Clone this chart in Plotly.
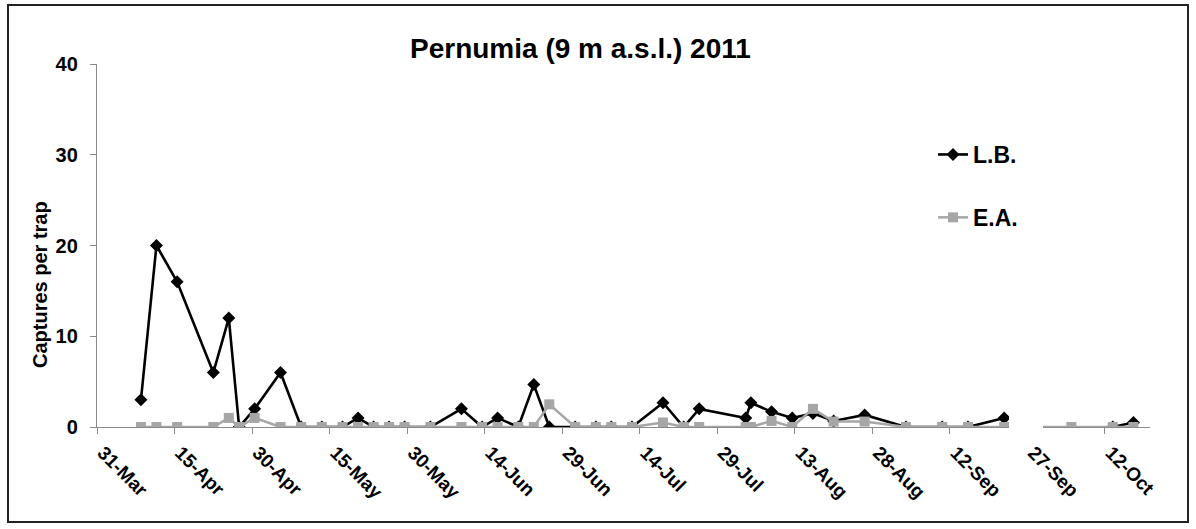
import pandas as pd
import plotly.graph_objects as go

# Trap inspection dates (2011) and mean captures per trap
sample_dates = [
    "2011-04-08", "2011-04-11", "2011-04-15", "2011-04-22", "2011-04-25", "2011-04-27",
    "2011-04-30", "2011-05-05", "2011-05-09", "2011-05-13", "2011-05-17", "2011-05-20",
    "2011-05-23", "2011-05-26", "2011-05-29", "2011-06-03", "2011-06-09", "2011-06-13",
    "2011-06-16", "2011-06-20", "2011-06-23", "2011-06-26", "2011-07-01", "2011-07-05",
    "2011-07-08", "2011-07-12", "2011-07-18", "2011-07-22", "2011-07-25", "2011-08-03",
    "2011-08-04", "2011-08-08", "2011-08-12", "2011-08-16", "2011-08-20", "2011-08-26",
    "2011-09-03", "2011-09-10", "2011-09-15", "2011-09-22", "2011-10-05", "2011-10-13",
    "2011-10-17",
]

lb_captures = [
    3, 20, 16, 6, 12, 0,
    2, 6, 0, 0, 0, 1,
    0, 0, 0, 0, 2, 0,
    1, 0, 4.67, 0, 0, 0,
    0, 0, 2.67, 0, 2, 1,
    2.67, 1.67, 1, 1.5, 0.67, 1.33,
    0, 0, 0, 1, None, 0,
    0.5,
]

ea_captures = [
    0, 0, 0, 0, 1, 0,
    1, 0, 0, 0, 0, 0,
    0, 0, 0, 0, 0, 0,
    0, 0, 0, 2.5, 0, 0,
    0, 0, 0.5, 0, 0, 0,
    0, 0.67, 0, 2, 0.6, 0.6,
    0, 0, 0, 0, 0, 0,
    0,
]

series_names = ["L.B.", "E.A."]
title_text = "Pernumia (9 m a.s.l.) 2011"
y_title_text = "Captures per trap"

FONT = "Liberation Sans, Arial, sans-serif"
GREY = "#a6a6a6"
AXIS_GREY = "#8a8a8a"

W, H = 1196, 529
L, R, T, B = 97, 46, 64, 102
PW, PH = W - L - R, H - T - B


def fx(px):
    return (px - L) / PW


def fy(py):
    return (T + PH - py) / PH


# each date occupies one day slot; points sit mid-slot
x_vals = pd.to_datetime(sample_dates) + pd.Timedelta(hours=12)

fig = go.Figure()
fig.add_trace(go.Scatter(
    x=x_vals, y=lb_captures, name=series_names[0], mode="lines+markers",
    line=dict(color="black", width=2.6),
    marker=dict(symbol="diamond", size=10, color="black"),
    connectgaps=False, legendgroup="a",
))
fig.add_trace(go.Scatter(
    x=x_vals, y=ea_captures, name=series_names[1], mode="lines+markers",
    line=dict(color=GREY, width=2.5),
    marker=dict(symbol="square", size=10, color=GREY),
    legendgroup="b",
))

fig.update_xaxes(
    type="date",
    range=["2011-03-31", "2011-10-20 17:00"],
    tick0="2011-03-31", dtick=15 * 86400000,
    tickformat="%d-%b", tickangle=45,
    ticks="outside", ticklen=6, tickcolor=AXIS_GREY,
    showline=True, linecolor=AXIS_GREY, linewidth=1.3,
    showgrid=False, zeroline=False, automargin=False,
    ticklabelshift=6,
    tickfont=dict(family=FONT, size=19, color="black", weight="bold"),
)
fig.update_yaxes(
    range=[0, 40], dtick=10,
    ticks="outside", ticklen=6, tickcolor=AXIS_GREY,
    showline=True, linecolor=AXIS_GREY, linewidth=1.3,
    showgrid=False, zeroline=False, automargin=False,
    ticklabelstandoff=8,
    tickfont=dict(family=FONT, size=20, color="black", weight="bold"),
)

fig.update_layout(
    width=W, height=H,
    margin=dict(l=L, r=R, t=T, b=B, autoexpand=False),
    plot_bgcolor="white", paper_bgcolor="white",
    showlegend=True,
    legend=dict(
        x=fx(933), y=fy(133), xanchor="left", yanchor="top",
        font=dict(family=FONT, size=23, color="black", weight="bold"),
        tracegroupgap=30, bgcolor="rgba(0,0,0,0)",
    ),
    annotations=[
        dict(text="<b>" + title_text + "</b>", x=fx(580), y=fy(48),
             xref="paper", yref="paper", showarrow=False,
             xanchor="center", yanchor="middle",
             font=dict(family=FONT, size=28, color="black")),
        dict(text="<b>" + y_title_text + "</b>", x=fx(40), y=fy(285),
             xref="paper", yref="paper", showarrow=False, textangle=-90,
             xanchor="center", yanchor="middle",
             font=dict(family=FONT, size=20, color="black")),
    ],
    shapes=[
        # outer frame of the chart area
        dict(type="rect", xref="paper", yref="paper",
             x0=fx(8), x1=fx(1188), y0=fy(522), y1=fy(5),
             line=dict(color="#222222", width=2), fillcolor="rgba(0,0,0,0)",
             layer="above"),
        # blanked patch on the axis near late September
        dict(type="rect", xref="paper", yref="paper",
             x0=fx(1009), x1=fx(1043), y0=fy(434), y1=fy(405),
             line=dict(width=0), fillcolor="white", layer="above"),
    ],
)

fig.write_html("out.html")
